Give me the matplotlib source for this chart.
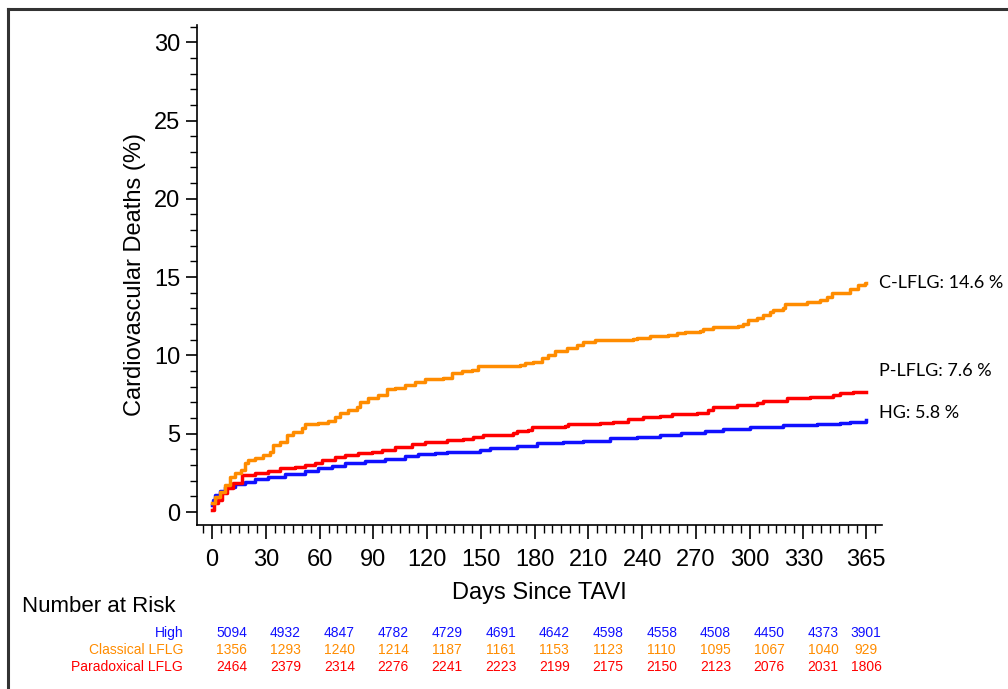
import numpy as np
import matplotlib.pyplot as plt
from matplotlib.lines import Line2D
from matplotlib.ticker import MultipleLocator

# Cumulative incidence of cardiovascular death (%)
c_days = [0, 1.7, 4.5, 7.3, 10, 12.8, 16.2, 18.4, 20.3, 24, 28.6, 32.4, 34.2, 37.9, 41.7,
          45.4, 50, 51.9, 59.3, 64.9, 68.6, 71.4, 76.1, 80.7, 82.6, 87.2, 92.8, 97.5, 102.1,
          107.7, 113.3, 118.9, 124.4, 129.1, 133.7, 139.3, 144.9, 148.6, 171.9, 174.7, 179.3,
          184, 187.7, 191.4, 197.9, 203.5, 207.2, 213.7, 235.1, 237, 244.4, 250, 254.6, 259.3,
          264, 272.3, 274.2, 279.8, 293.7, 296.5, 299.3, 304, 307.7, 311.4, 313.3, 318.8,
          319.7, 330, 331.8, 337.4, 339.3, 343, 345.8, 354.2, 356, 360.7, 364.4, 365]
c_vals = [0.55, 0.98, 1.3, 1.72, 2.25, 2.51, 2.68, 3.1, 3.32, 3.42, 3.64, 3.85, 4.28, 4.49, 4.91,
          5.12, 5.34, 5.6, 5.66, 5.83, 6.08, 6.34, 6.51, 6.72, 7.04, 7.25, 7.47, 7.83, 7.95,
          8.1, 8.32, 8.47, 8.5, 8.53, 8.85, 9.0, 9.06, 9.32, 9.36, 9.53, 9.59,
          9.81, 10.02, 10.27, 10.49, 10.66, 10.87, 10.98, 11.02, 11.13, 11.22, 11.25, 11.28, 11.4,
          11.51, 11.55, 11.66, 11.83, 11.86, 12.0, 12.25, 12.4, 12.57, 12.78, 12.89, 13.0,
          13.27, 13.3, 13.38, 13.42, 13.57, 13.7, 13.96, 14.0, 14.23, 14.49, 14.6, 14.6]

p_days = [0, 0.9, 3.5, 5.4, 8.2, 11.9, 16.6, 24, 31.4, 37.9, 46.3, 51.9, 57.5, 61.2, 68.6,
          74.2, 81.6, 89.1, 94.7, 102.1, 111.4, 118.9, 131, 140.3, 145.8, 151.4, 168.1, 170,
          176.5, 178.4, 197, 198.8, 216.5, 223.9, 232.3, 240.7, 250, 256.5, 270.5, 277, 279.8,
          292.8, 304, 307.7, 320.7, 333.7, 346.7, 350.4, 357.9, 365]
p_vals = [0.13, 0.55, 0.77, 1.19, 1.55, 1.87, 2.36, 2.51, 2.64, 2.79, 2.89, 3.0, 3.15, 3.32, 3.49,
          3.64, 3.74, 3.85, 3.96, 4.17, 4.32, 4.49, 4.6, 4.64, 4.81, 4.91, 5.02, 5.17,
          5.23, 5.4, 5.49, 5.6, 5.66, 5.76, 5.91, 6.04, 6.13, 6.25, 6.34, 6.51, 6.72,
          6.83, 6.94, 7.1, 7.25, 7.36, 7.47, 7.57, 7.65, 7.65]

h_days = [0, 0.5, 1.7, 4.5, 7.3, 12.8, 18.4, 24, 31.4, 40.7, 51.9, 59.3, 66.8, 74.2, 85.4,
          96.5, 107.7, 115.1, 124.4, 131, 149.6, 155.1, 170, 181.2, 196, 207.2, 222.1, 237,
          250, 262, 275, 285.3, 300.2, 318.8, 337.4, 350.4, 356, 365]
h_vals = [0.45, 0.77, 1.08, 1.36, 1.57, 1.79, 1.94, 2.09, 2.25, 2.4, 2.62, 2.79, 2.96, 3.1, 3.26,
          3.36, 3.57, 3.7, 3.74, 3.85, 3.96, 4.06, 4.23, 4.38, 4.49, 4.55, 4.7, 4.81,
          4.91, 5.02, 5.15, 5.28, 5.45, 5.55, 5.62, 5.66, 5.76, 5.85]

risk_days = [0, 30, 60, 90, 120, 150, 180, 210, 240, 270, 300, 330, 365]
risk_high = [5094, 4932, 4847, 4782, 4729, 4691, 4642, 4598, 4558, 4508, 4450, 4373, 3901]
risk_classical = [1356, 1293, 1240, 1214, 1187, 1161, 1153, 1123, 1110, 1095, 1067, 1040, 929]
risk_paradoxical = [2464, 2379, 2314, 2276, 2241, 2223, 2199, 2175, 2150, 2123, 2076, 2031, 1806]

BLUE = '#1010ff'
ORANGE = '#ff8c00'
RED = '#ff0000'

plt.rcParams['font.family'] = ['Liberation Sans', 'DejaVu Sans']

fig = plt.figure(figsize=(10.08, 6.89), dpi=100)
ax = fig.add_axes([197/1008, 1 - 525/689, (882 - 197)/1008, (525 - 25)/689])

ax.step(h_days, h_vals, where='post', color=BLUE, lw=2.5)
ax.step(p_days, p_vals, where='post', color=RED, lw=2.5)
ax.step(c_days, c_vals, where='post', color=ORANGE, lw=2.5)

ax.set_xlim(-8.4, 373.9)
ax.set_ylim(-0.83, 31.1)
ax.set_xticks(risk_days)
ax.xaxis.set_minor_locator(MultipleLocator(5))
ax.yaxis.set_major_locator(MultipleLocator(5))
ax.yaxis.set_minor_locator(MultipleLocator(1))
ax.tick_params(axis='both', which='major', labelsize=17, width=1.2, color='black')
ax.tick_params(axis='x', which='major', length=10, pad=7)
ax.tick_params(axis='x', which='minor', length=6, width=1)
ax.tick_params(axis='y', which='major', length=8, pad=4)
ax.tick_params(axis='y', which='minor', length=5, width=1)
ax.spines['top'].set_visible(False)
ax.spines['right'].set_visible(False)
for s in ['left', 'bottom']:
    ax.spines[s].set_linewidth(1.2)
ax.set_xlabel('Days Since TAVI', fontsize=17, labelpad=8)
ax.set_ylabel('Cardiovascular Deaths (%)', fontsize=17, labelpad=6)

# end-of-curve labels
end_font = ['Lato', 'DejaVu Sans']
ax.text(0.995, 14.6, 'C-LFLG: 14.6 %', transform=ax.get_yaxis_transform(),
        fontsize=13, va='center', family=end_font)
ax.text(0.995, 9.0, 'P-LFLG: 7.6 %', transform=ax.get_yaxis_transform(),
        fontsize=13, va='center', family=end_font)
ax.text(0.995, 6.3, 'HG: 5.8 %', transform=ax.get_yaxis_transform(),
        fontsize=13, va='center', family=end_font)

# number at risk table
fig.text(22/1008, 1 - 607/689, 'Number at Risk', fontsize=16, va='center')
rows = [('High', risk_high, BLUE, 633),
        ('Classical LFLG', risk_classical, ORANGE, 650),
        ('Paradoxical LFLG', risk_paradoxical, RED, 667)]
for name, vals, col, ypix in rows:
    yf = 1 - ypix/689
    fig.text(183/1008, yf, name, fontsize=10, color=col, ha='right', va='center')
    for d, v in zip(risk_days, vals):
        xd = d + 11 if d < 365 else d
        xf = fig.transFigure.inverted().transform(ax.transData.transform((xd, 0)))[0]
        fig.text(xf, yf, str(v), fontsize=10, color=col, ha='center', va='center')

# outer frame (left and top edges)
fig.add_artist(Line2D([7.5/1008, 7.5/1008], [0, 1 - 9/689], color='#333333', lw=2.2,
                      transform=fig.transFigure))
fig.add_artist(Line2D([7.5/1008, 1], [1 - 9/689, 1 - 9/689], color='#333333', lw=2.2,
                      transform=fig.transFigure))

fig.savefig('out.png', dpi=100)
